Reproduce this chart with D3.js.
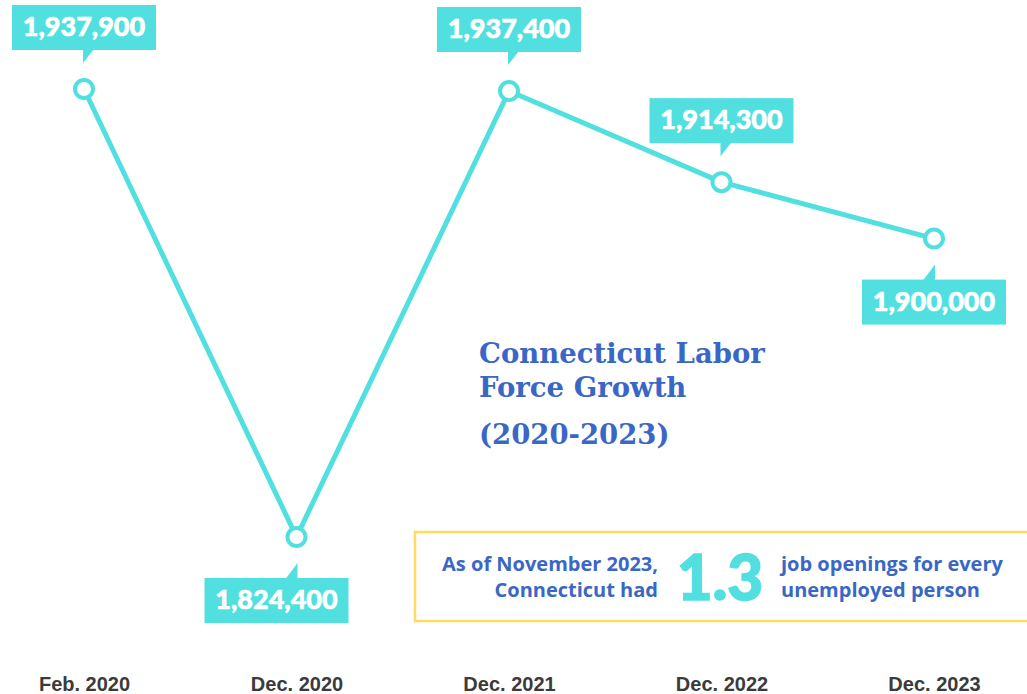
<!DOCTYPE html>
<html>
<head>
<meta charset="utf-8">
<script src="https://cdn.jsdelivr.net/npm/d3@7"></script>
<style>
  html, body { margin: 0; padding: 0; background: #fff; }
  svg { display: block; }
  .x-axis text { font-family: "Liberation Sans", Arial, sans-serif; font-weight: bold; font-size: 20px; fill: #3b3b3b; }
  .callout-text { font-family: Lato, "Open Sans", sans-serif; font-weight: 900; font-size: 27px; fill: #fff; stroke: #fff; stroke-width: 0.6px; }
  .title { font-family: "DejaVu Serif", serif; font-weight: bold; font-size: 27.5px; fill: #3a67c6; }
  .note { font-family: "Open Sans", Lato, sans-serif; font-weight: bold; font-size: 20px; fill: #3a67c6; }
  .big-num { font-family: Lato, "Open Sans", sans-serif; font-weight: 900; font-size: 62px; fill: #52dfe0; stroke: #52dfe0; stroke-width: 1.5px; }
</style>
</head>
<body>
<div id="chart"></div>
<script>
// CT labor force, 2020-2023
const periods = ["Feb. 2020", "Dec. 2020", "Dec. 2021", "Dec. 2022", "Dec. 2023"];
const laborForce = [1937900, 1824400, 1937400, 1914300, 1900000];
// vị trí nhãn: trên hay dưới điểm, và độ lệch ngang của hộp
const labelSide = ["above", "below", "above", "above", "below"];
const labelShift = [0, -20, 0, 0, 0];

const titleLines = ["Connecticut Labor", "Force Growth"];
const subTitle = "(2020-2023)";
const noteLeft = ["As of November 2023,", "Connecticut had"];
const noteNumber = "1.3";
const noteRight = ["job openings for every", "unemployed person"];

const width = 1027, height = 694;
const cyan = "#52dfe0";

const svg = d3.select("#chart").append("svg")
    .attr("width", width)
    .attr("height", height);

const x = d3.scalePoint().domain(periods).range([84, 934]);
const y = d3.scaleLinear().domain(d3.extent(laborForce)).range([537, 89]);

const data = periods.map((p, i) => ({
    period: p,
    value: laborForce[i],
    side: labelSide[i],
    shift: labelShift[i]
}));

// trục X, không có đường trục
const xAxis = svg.append("g")
    .attr("class", "x-axis")
    .attr("transform", "translate(0, 670)")
    .call(d3.axisBottom(x).tickSize(0).tickPadding(7));
xAxis.select(".domain").remove();

// đường
const line = d3.line()
    .x(d => x(d.period))
    .y(d => y(d.value));

svg.append("path")
    .datum(data)
    .attr("d", line)
    .attr("fill", "none")
    .attr("stroke", cyan)
    .attr("stroke-width", 5)
    .attr("stroke-linejoin", "round");

svg.selectAll(".dot")
    .data(data)
    .enter()
    .append("circle")
    .attr("class", "dot")
    .attr("cx", d => x(d.period))
    .attr("cy", d => y(d.value))
    .attr("r", 9)
    .attr("fill", "#fff")
    .attr("stroke", cyan)
    .attr("stroke-width", 4);

// nhãn giá trị dạng callout
const boxW = 144, boxH = 45;
const callouts = svg.selectAll(".callout")
    .data(data)
    .enter()
    .append("g")
    .attr("class", "callout")
    .attr("transform", d => `translate(${x(d.period)}, ${y(d.value)})`);

callouts.append("rect")
    .attr("x", d => -boxW / 2 + d.shift)
    .attr("y", d => d.side === "above" ? -39 - boxH : 41)
    .attr("width", boxW)
    .attr("height", boxH)
    .attr("fill", cyan);

callouts.append("path")
    .attr("d", d => d.side === "above"
        ? "M-1,-40 L10,-40 L-1,-26 Z"
        : "M1,42 L-11,42 L1,26 Z")
    .attr("fill", cyan);

callouts.append("text")
    .attr("class", "callout-text")
    .attr("text-anchor", "middle")
    .attr("x", d => d.shift)
    .attr("y", d => d.side === "above" ? -39 - boxH + 31 : 41 + 31)
    .text(d => d3.format(",")(d.value));

// tiêu đề
const title = svg.append("text")
    .attr("class", "title")
    .attr("x", 479);
title.selectAll("tspan")
    .data(titleLines)
    .enter()
    .append("tspan")
    .attr("x", 479)
    .attr("y", (d, i) => 363 + i * 34)
    .text(d => d);

svg.append("text")
    .attr("class", "title")
    .attr("x", 479)
    .attr("y", 444)
    .text(subTitle);

// hộp ghi chú màu vàng
svg.append("rect")
    .attr("x", 415)
    .attr("y", 532)
    .attr("width", 640)
    .attr("height", 89)
    .attr("fill", "none")
    .attr("stroke", "#ffdb5e")
    .attr("stroke-width", 2.5);

svg.selectAll(".note-left")
    .data(noteLeft)
    .enter()
    .append("text")
    .attr("class", "note note-left")
    .attr("text-anchor", "end")
    .attr("x", 658)
    .attr("y", (d, i) => 571 + i * 26)
    .text(d => d);

svg.append("text")
    .attr("class", "big-num")
    .attr("x", 720)
    .attr("y", 600)
    .attr("text-anchor", "middle")
    .text(noteNumber);

svg.selectAll(".note-right")
    .data(noteRight)
    .enter()
    .append("text")
    .attr("class", "note note-right")
    .attr("x", 781)
    .attr("y", (d, i) => 571 + i * 26)
    .text(d => d);
</script>
</body>
</html>
